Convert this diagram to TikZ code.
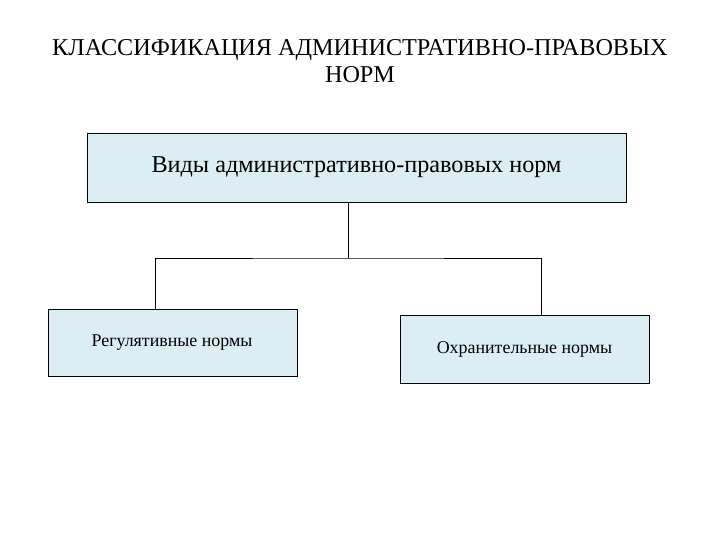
\documentclass[tikz,border=0pt]{standalone}
\usepackage{fontspec}
\setmainfont{Liberation Serif}
\begin{document}
\begin{tikzpicture}[x=1pt,y=-1pt,
 box/.style={draw=black,fill=boxfill,line width=0.8pt,inner sep=0pt},
 conn/.style={draw=black,line width=0.8pt}]
\definecolor{boxfill}{HTML}{DAEEF3}
\useasboundingbox (0,0) rectangle (720,540);
\node[align=center,font=\fontsize{24.2}{27}\selectfont] (title) at (360,61) {КЛАССИФИКАЦИЯ АДМИНИСТРАТИВНО-ПРАВОВЫХ\\НОРМ};
\node[box,minimum width=539pt,minimum height=69pt,font=\fontsize{24.2}{28}\selectfont] (top) at (356.5,167.5) {Виды административно-правовых норм};
\node[box,minimum width=249pt,minimum height=67pt,anchor=north west] (left) at (48,309) {};
\node[font=\fontsize{17.9}{21}\selectfont] (lt) at (172,343) {Регулятивные нормы};
\node[box,minimum width=249pt,minimum height=68pt,font=\fontsize{17.9}{21}\selectfont] (right) at (524.5,349) {Охранительные нормы};
\coordinate (j) at (348,258);
\draw[conn] (top.south -| j) -- (j);
\draw[conn] (left.north -| 155,0) |- (j) -| (right.north -| 541,0);
\end{tikzpicture}
\end{document}
